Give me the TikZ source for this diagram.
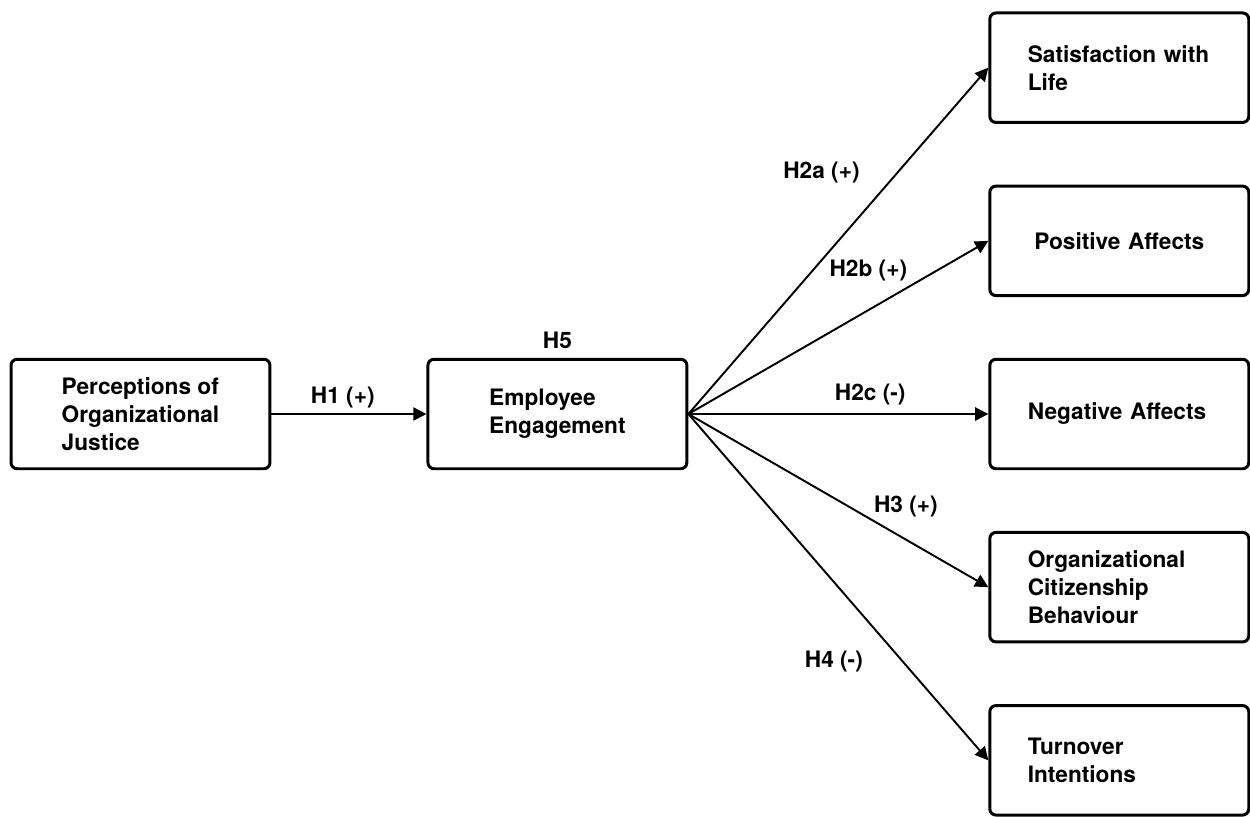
\documentclass[tikz,border=0pt]{standalone}
\usepackage{fontspec}
\setmainfont{TeX Gyre Heros}
\usetikzlibrary{positioning,arrows.meta}

\tikzset{
  box/.style={draw, line width=1.7pt, rounded corners=3.5pt, minimum width=5.18cm, minimum height=2.19cm, align=left},
  outcome/.style={box, text width=3.66cm},
  arr/.style={-{Triangle[length=7.5pt,width=7.5pt]}, line width=1.1pt},
}

\begin{document}
\begin{tikzpicture}[x=0.02cm, y=-0.02cm, font=\fontsize{12.9}{15.9}\selectfont\bfseries]
\useasboundingbox (0,0) rectangle (1250,816);
\node[box] (just) at (140.5,414) {Perceptions of\\Organizational\\Justice};
\node[box, right=3.1cm of just] (eng) {Employee\\Engagement};
\node[outcome, right=6cm of eng] (negaff) {Negative Affects};
\node[outcome, align=center, above=1.214cm of negaff] (posaff) {Positive Affects};
\node[outcome, above=1.214cm of posaff] (sat) {Satisfaction with\\Life};
\node[outcome, below=1.214cm of negaff] (ocb) {Organizational\\Citizenship\\Behaviour};
\node[outcome, below=1.214cm of ocb] (turn) {Turnover\\Intentions};
\node (h5) at ([yshift=0.34cm]eng.north) {H5};

\path[arr]
(just) edge node[pos=0.46, yshift=0.34cm] {H1 (+)} (eng)
(eng.east) edge node[pos=0.697, xshift=-1.52cm] {H2a (+)} (sat.west)
(eng.east) edge node[pos=0.6, yshift=0.8cm] {H2b (+)} (posaff.west)
(eng.east) edge node[pos=0.606, yshift=0.4cm] {H2c (-)} (negaff.west)
(eng.east) edge node[pos=0.725, yshift=0.66cm] {H3 (+)} (ocb.west)
(eng.east) edge node[pos=0.715, xshift=-1.38cm] {H4 (-)} (turn.west);
\end{tikzpicture}
\end{document}
